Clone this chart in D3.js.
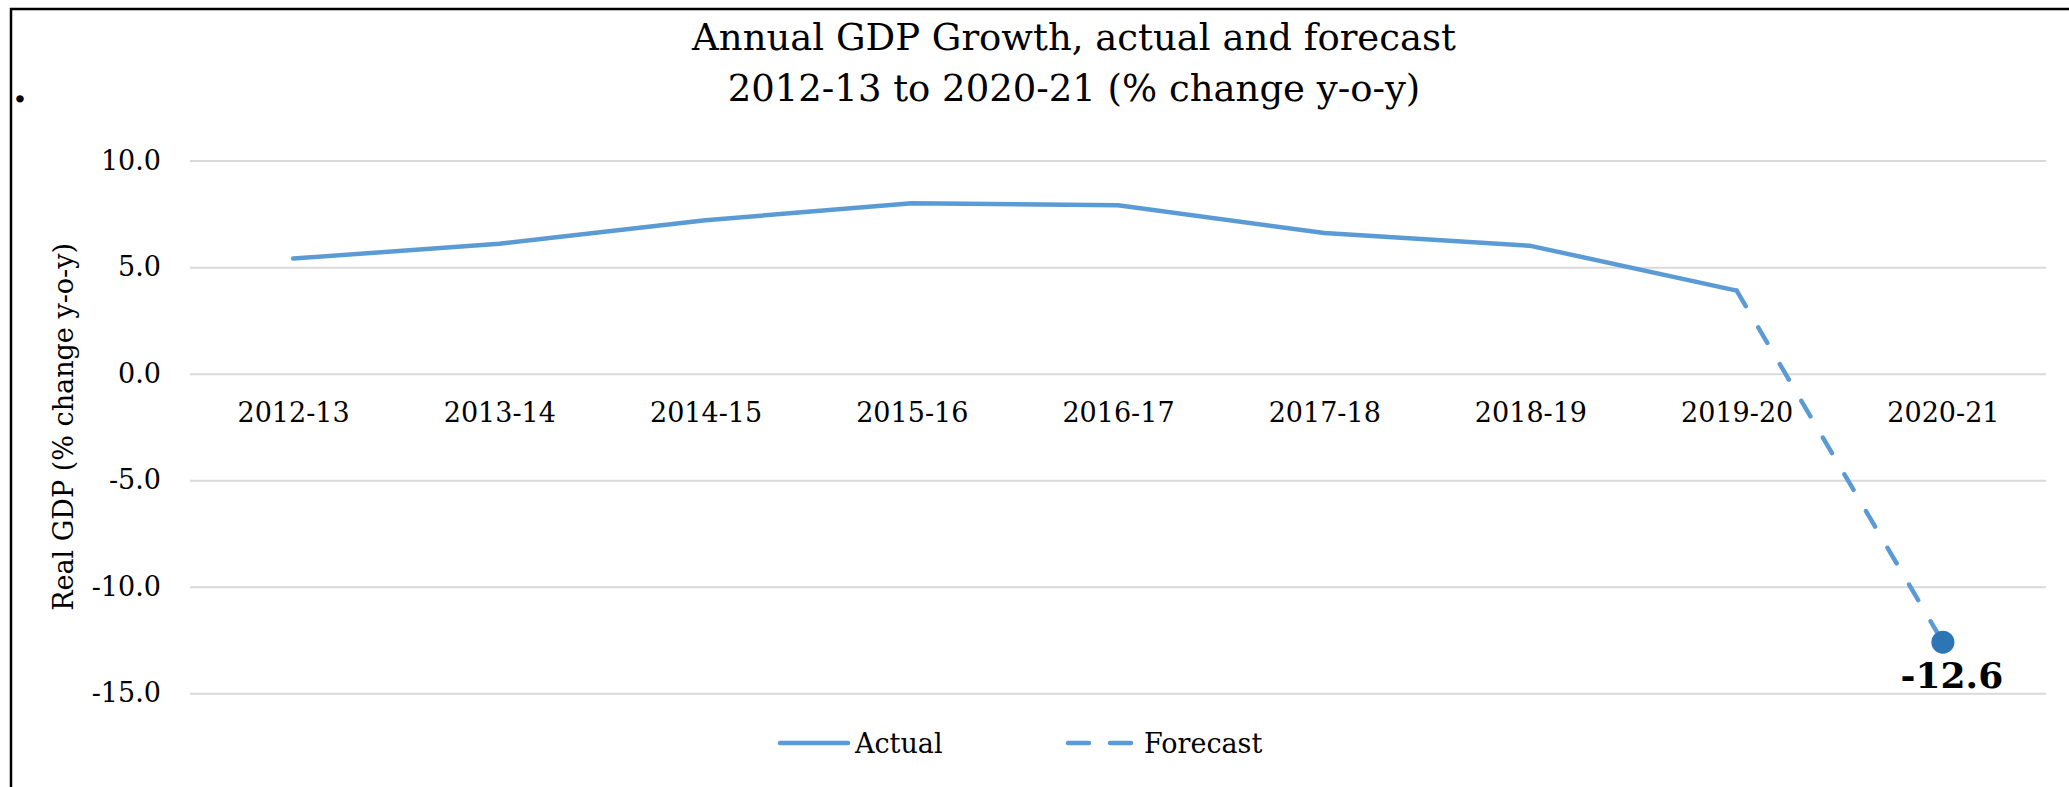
<!DOCTYPE html>
<html>
<head>
<meta charset="utf-8">
<script src="https://cdn.jsdelivr.net/npm/d3@7"></script>
<style>
  body { margin: 0; background: #fff; }
  svg text { font-family: "DejaVu Serif", serif; fill: #000; }
</style>
</head>
<body>
<div id="chart"></div>
<script>
// Chart data
const categories = ["2012-13", "2013-14", "2014-15", "2015-16", "2016-17", "2017-18", "2018-19", "2019-20", "2020-21"];
const actualValues = [5.4, 6.1, 7.2, 8.0, 7.9, 6.6, 6.0, 3.9, null];
const forecastValues = [null, null, null, null, null, null, null, 3.9, -12.6];
const yTicks = [10, 5, 0, -5, -10, -15];
const titleLines = ["Annual GDP Growth, actual and forecast", "2012-13 to 2020-21 (% change y-o-y)"];

// Sizes
const W = 2069, H = 787;
const plot = { left: 190, right: 2046, top: 160.6, bottom: 693.3 };
const lineColor = "#5B9BD5";

// one decimal, plain hyphen for negatives (like the source)
const fmt = d => d3.format(".1f")(d).replace("\u2212", "-");

const svg = d3.select("#chart")
    .append("svg")
    .attr("width", W)
    .attr("height", H);

// Frame (only left and top edges are visible in the picture)
svg.append("rect")
    .attr("x", 11)
    .attr("y", 9)
    .attr("width", W + 20)
    .attr("height", H + 20)
    .attr("fill", "none")
    .attr("stroke", "#000")
    .attr("stroke-width", 2.5);

// Stray dot at the top-left
svg.append("text")
    .attr("x", 13)
    .attr("y", 102)
    .style("font-size", "40px")
    .style("font-weight", "bold")
    .text(".");

// Scales
const xScale = d3.scalePoint()
    .domain(categories)
    .range([plot.left, plot.right])
    .padding(0.5);

const yScale = d3.scaleLinear()
    .domain([-15, 10])
    .range([plot.bottom, plot.top]);

// Gridlines + Y labels
const yAxis = svg.append("g")
    .attr("transform", `translate(${plot.left},0)`)
    .call(d3.axisLeft(yScale)
        .tickValues(yTicks)
        .tickFormat(fmt)
        .tickSize(-(plot.right - plot.left))
        .tickPadding(29));
yAxis.select(".domain").remove();
yAxis.selectAll(".tick line")
    .attr("stroke", "#d9d9d9")
    .attr("stroke-width", 2);
yAxis.selectAll(".tick text")
    .style("font-size", "27px")
    .style("font-family", "DejaVu Serif, serif");

// X labels sit next to the zero line
const xAxis = svg.append("g")
    .attr("transform", `translate(0,${yScale(0)})`)
    .call(d3.axisBottom(xScale).tickSize(0).tickPadding(29));
xAxis.select(".domain").remove();
xAxis.selectAll(".tick text")
    .style("font-size", "27px")
    .style("font-family", "DejaVu Serif, serif");

// Y axis title
svg.append("text")
    .attr("transform", `translate(73,${(plot.top + plot.bottom) / 2}) rotate(-90)`)
    .attr("text-anchor", "middle")
    .style("font-size", "27px")
    .text("Real GDP (% change y-o-y)");

// Chart title
svg.selectAll(".title")
    .data(titleLines)
    .enter().append("text")
    .attr("class", "title")
    .attr("x", 1074)
    .attr("y", (d, i) => 50 + i * 51)
    .attr("text-anchor", "middle")
    .style("font-size", "37px")
    .text(d => d);

// Lines
const line = d3.line()
    .defined(d => d.v !== null)
    .x(d => xScale(d.c))
    .y(d => yScale(d.v));

const actualData = categories.map((c, i) => ({ c: c, v: actualValues[i] }));
const forecastData = categories.map((c, i) => ({ c: c, v: forecastValues[i] }));

svg.append("path")
    .datum(actualData)
    .attr("d", line)
    .attr("fill", "none")
    .attr("stroke", lineColor)
    .attr("stroke-width", 4.5)
    .attr("stroke-linejoin", "round")
    .attr("stroke-linecap", "round");

svg.append("path")
    .datum(forecastData)
    .attr("d", line)
    .attr("fill", "none")
    .attr("stroke", lineColor)
    .attr("stroke-width", 4.5)
    .attr("stroke-linecap", "round")
    .attr("stroke-dasharray", "18,24.6");

// Highlight the last forecast point
const last = forecastData[forecastData.length - 1];
svg.append("circle")
    .attr("cx", xScale(last.c))
    .attr("cy", yScale(last.v))
    .attr("r", 11.5)
    .attr("fill", "#2E75B6");

svg.append("text")
    .attr("x", xScale(last.c) + 9)
    .attr("y", yScale(last.v) + 46)
    .attr("text-anchor", "middle")
    .style("font-size", "36px")
    .style("font-weight", "bold")
    .text(fmt(last.v));

// Legend
const legendY = 743;
svg.append("line")
    .attr("x1", 780).attr("x2", 848)
    .attr("y1", legendY).attr("y2", legendY)
    .attr("stroke", lineColor)
    .attr("stroke-width", 4.5)
    .attr("stroke-linecap", "round");
svg.append("text")
    .attr("x", 855)
    .attr("y", legendY + 10)
    .style("font-size", "27px")
    .text("Actual");

svg.append("line")
    .attr("x1", 1068).attr("x2", 1131)
    .attr("y1", legendY).attr("y2", legendY)
    .attr("stroke", lineColor)
    .attr("stroke-width", 4.5)
    .attr("stroke-linecap", "round")
    .attr("stroke-dasharray", "21,21");
svg.append("text")
    .attr("x", 1144)
    .attr("y", legendY + 10)
    .style("font-size", "27px")
    .text("Forecast");
</script>
</body>
</html>
